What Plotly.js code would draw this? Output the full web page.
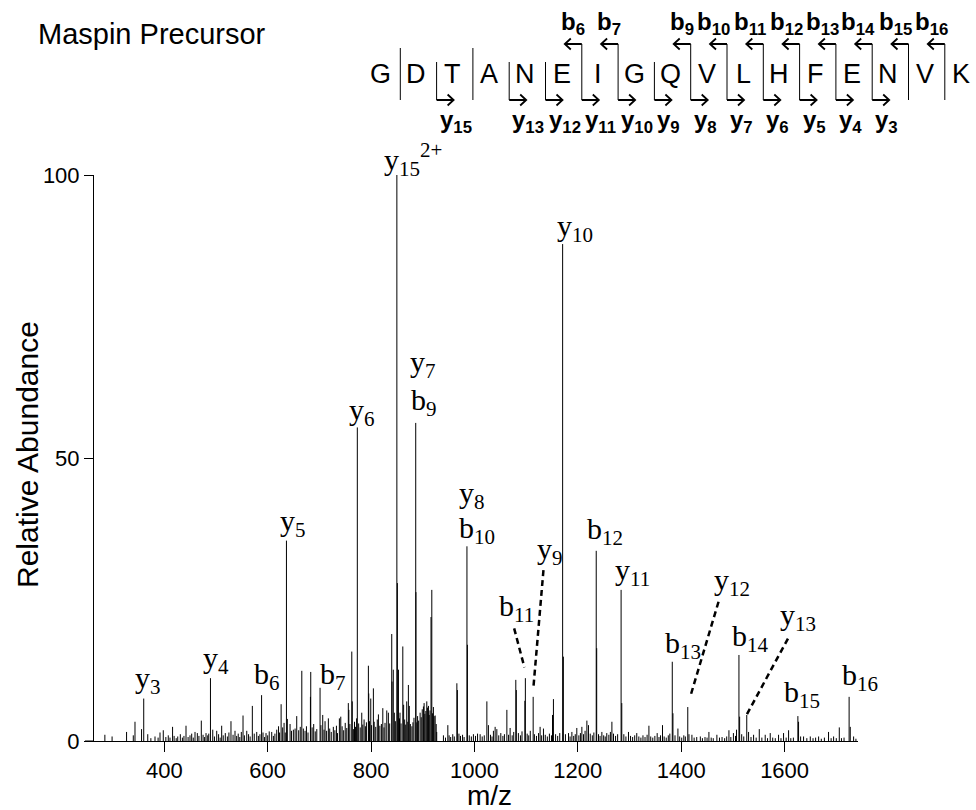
<!DOCTYPE html>
<html><head><meta charset="utf-8">
<script src="https://cdn.plot.ly/plotly-3.0.1.min.js"></script>
<style>html,body{margin:0;padding:0;background:#fff}#chart{width:976px;height:810px}</style>
</head><body><div id="chart"></div>
<script>
// ---- data: labelled fragment peaks ----
const majorMz  = [360.2, 489.3, 588.2, 636.3, 701.3, 773.4, 849.9, 886.4, 985.5, 1098.5, 1113.6, 1170.6, 1235.6, 1283.7, 1382.7, 1412.7, 1511.7, 1526.8, 1625.7, 1724.8];
const majorInt = [7.5, 11.1, 8.1, 35.4, 9.4, 55.4, 100, 56.2, 34.4, 11.1, 7.8, 87.8, 33.6, 26.7, 14.0, 6.0, 15.2, 4.6, 4.4, 7.8];

// ---- data: other peaks ----
const minorMz = [285,299,327,340,343.3,356,368,374,382,388,391.7,398,
403,407.7,411,416,419,423,426,431,435,438,442,446,449.7,453,456,459.4,463.9,467,471.6,475,478,480.7,484,486,493.7,497,501.4,
505,508,511,514,518,522,525,529,533,536.8,540,543,546,549,552.3,555,559.5,563,566,570.3,574,578.8,582,585,591,594,596.8,600,603,607.8,611,614,617.5,621,623,626,629,631.7,634,
638,643.3,646,649.7,653,656.2,660,663,666,669,672.3,675,678,682.7,683.3,686,689,692,695,703,706.5,709,711,714,717.4,720,723,727,730,733,735,738.7,741.4,744,747,750,753,756,757,759,
762.7,763.6,765.8,768,770,772,776,779,782,784,786.5,789,791,794.8,795.5,797,799.4,801,804.5,806,809,812,814.2,817,820,822.7,825,827,830.4,833.5,836,840,840.6,843,845,847,850.9,853,855,856,858,861.4,863,865,867,869,871,872.2,874,876,879,881,883,886.8,888.5,890,892,894.9,897,899,901.3,902.6,904,906,907.8,909,911,912.5,914,916,917.5,919,920.6,922,924,926,927,
940,944,948.5,951,954,958,961,966,967,970,973,977,980,986.4,990,994,998,1002,1006,1011,1015,1019,1024,1027,1031,1034,1036.7,1040,1043.3,1047,1051,1055,1058,1062.7,1066,1069,1073,1076,1080,1081,1085,1089,1092,1097.5,1102,1105,1108,
1116,1120,1124,1127,1130,1133.5,1137,1141,1145,1149,1151,1152.8,1157,1161,1165,1172,1176,1182,1185,1188.5,1192,1195,1198,1202,1205,1207.8,1211,1214,1217.5,1220.6,1224,1228,1231,1236.5,1240,1243,1246.5,1250,1253,1256,1260,1263,1265.9,1269,1273,1277,1285,1289,1293,1298,1302,1306,1310,1314,1318,1322,1326,1330,1334,1337.5,1341,1345,1349,1353.5,1357,1360,1363.8,1367,1371,1375,1378,1384,1388,1393.6,1397,
1401,1405,1408,1415,1420.7,1425,1430,1437,1441,1446,1450,1453.6,1458,1462,1469,1474,1479,1484,1488,1492.3,1496,1501,1505,1507,1513,1517,1521,1530.3,1535,1540,1545,1551,1556,1562.5,1567,1572.2,1577,1582,1588.3,1593,1598,1603,1607.7,1612,1617,1627,1631,1636.7,1643,1649.7,1655,1660,1665.8,1671,1677,1685,1690,1694.8,1700,1705.8,1710,1715,1727,1733.5,1738];
const minorInt = [1.1,0.8,1.6,1.0,3.4,2.1,1.2,0.5,0.8,0.6,1.5,1.9,
0.7,1.0,0.6,2.5,0.9,0.5,0.8,1.2,0.6,0.9,2.7,0.7,1.0,1.3,0.6,1.6,1.4,0.9,3.6,1.1,0.7,1.4,1.0,1.3,2.0,0.8,1.8,
1.2,0.6,2.7,1.0,1.4,0.8,1.5,3.5,1.1,1.8,0.9,1.3,0.7,1.6,4.5,1.0,1.8,1.2,0.8,6.2,1.3,1.6,0.9,1.2,1.5,0.7,1.4,1.0,1.7,1.6,0.9,1.3,2.0,2.6,1.5,6.5,2.4,3.2,1.5,
3.9,3.0,1.8,2.0,2.2,4.4,1.9,2.5,12.4,2.2,1.8,2.6,1.5,7.8,12.2,2.4,3.0,1.7,2.1,2.8,4.6,2.0,3.5,1.8,4.0,2.2,1.6,2.5,1.9,2.7,1.4,4.0,4.3,2.6,1.9,3.2,2.3,6.7,5.5,3.0,
15.8,7.0,2.1,3.4,2.5,4.0,3.1,2.4,5.0,2.9,3.8,2.6,3.3,13.3,8.4,3.5,7.5,2.8,9.3,3.4,2.5,3.8,4.7,2.7,3.0,5.8,2.4,3.2,5.4,5.0,3.1,18.9,10.5,12.6,5.0,3.5,27.9,12.6,4.0,5.0,3.1,16.7,6.4,3.8,2.9,7.0,3.4,9.9,6.2,3.0,2.6,3.3,4.1,26.3,3.3,4.4,3.6,5.0,4.2,5.6,6.1,6.7,4.8,5.3,7.0,5.9,6.2,4.6,5.4,21.9,26.7,4.9,6.0,4.4,4.5,3.0,1.6,
1.0,0.6,2.8,1.0,0.7,1.2,0.8,10.2,9.0,1.3,0.9,1.1,0.7,17.0,1.0,0.8,1.2,0.9,1.3,1.2,0.8,1.0,7.0,2.8,1.1,0.8,1.8,2.5,2.1,1.0,1.4,0.9,1.2,5.5,1.1,2.3,1.0,1.6,10.8,9.0,1.4,1.0,1.7,7.1,1.3,1.0,1.8,
1.2,0.9,1.4,2.5,1.0,2.2,1.1,0.8,1.3,1.0,4.6,7.4,1.2,0.9,1.4,14.9,1.2,1.4,0.8,1.6,0.9,1.2,2.3,1.0,1.4,2.5,1.2,1.8,3.6,2.8,1.3,1.0,1.5,16.4,1.2,0.9,1.6,1.0,0.8,1.4,1.1,1.6,3.4,1.3,0.9,1.2,6.7,1.2,0.8,1.6,0.9,0.7,1.0,1.4,0.8,0.6,1.0,0.7,1.1,2.7,0.8,0.6,0.9,1.4,0.7,1.0,2.8,0.8,0.6,1.0,1.3,4.9,1.0,2.2,0.8,
0.6,1.0,0.8,1.2,1.1,0.6,0.7,0.8,0.5,0.7,0.6,1.6,0.6,0.5,1.1,0.6,0.7,0.5,0.8,1.9,0.7,1.4,0.9,2.0,4.3,1.2,0.8,1.6,0.7,1.1,0.6,2.1,0.6,1.1,0.5,1.4,0.6,0.5,1.1,0.5,1.4,0.6,1.9,0.5,0.6,3.4,0.8,0.8,0.5,0.8,0.5,0.6,0.8,0.4,0.6,1.6,0.5,0.8,0.5,2.4,0.5,0.6,2.5,0.8,0.4];

// ---- peak annotations ----
const ionLabels = ['y<sub>3</sub>','y<sub>4</sub>','b<sub>6</sub>','b<sub>7</sub>','y<sub>5</sub>','y<sub>6</sub>','y<sub>15</sub><sup>2+</sup>','y<sub>10</sub>','y<sub>7</sub>','b<sub>9</sub>','y<sub>8</sub>','b<sub>10</sub>','b<sub>11</sub>','y<sub>9</sub>','b<sub>12</sub>','y<sub>11</sub>','b<sub>13</sub>','y<sub>12</sub>','b<sub>14</sub>','y<sub>13</sub>','b<sub>15</sub>','b<sub>16</sub>'];
const ionLabelMz    = [339.4, 471, 569.7, 697.4, 620, 753.6, 821.3, 1156.2, 871.6, 873.6, 966.5, 966.5, 1043.9, 1117.5, 1214.3, 1268.5, 1365.2, 1460, 1494.9, 1587.8, 1595.5, 1707.8];
const ionLabelLevel = [10.8, 14.3, 11.5, 11.5, 38.5, 58.1, 102.7, 90.6, 66.6, 59.9, 43.5, 37.3, 23.5, 33.6, 37.1, 29.9, 17.0, 28.1, 18.2, 21.9, 8.3, 11.3];
// dashed leader lines [mz0, level0, mz1, level1]
const leaderMz0 = [1076.8, 1133.5, 1472.2, 1606.5];
const leaderLv0 = [19.9, 30.2, 24.6, 18.1];
const leaderMz1 = [1096.7, 1114.2, 1417.4, 1525.2];
const leaderLv1 = [13.0, 9.6, 7.8, 4.4];

// ---- sequence diagram ----
const sequence = ['G','D','T','A','N','E','I','G','Q','V','L','H','F','E','N','V','K'];
const bIons = [6,7,9,10,11,12,13,14,15,16];
const yIons = [15,13,12,11,10,9,8,7,6,5,4,3];

const xTicks = [400,600,800,1000,1200,1400,1600];
const yTicks = [0,50,100];

// ---- build ----
const sx = [], sy = [];
function addSticks(mz, it){ for(let i=0;i<mz.length;i++){ sx.push(mz[i],mz[i],null); sy.push(0,it[i],null);} }
addSticks(minorMz, minorInt);
addSticks(majorMz, majorInt);

const L=94, R=858, T=175, B=741;
const PX = p => (p-L)/(R-L);
const PY = p => (B-p)/(B-T);

const annotations = [];
const shapes = [];
const serif = 'Liberation Serif, Times New Roman, serif';
const sans = 'Liberation Sans, Arial, sans-serif';

ionLabels.forEach((t,i)=>{
  annotations.push({x: ionLabelMz[i], y: ionLabelLevel[i]/100, xref:'x', yref:'paper', text:t, showarrow:false,
    xanchor:'left', yanchor:'middle', font:{family:serif, size:30, color:'#000'}});
});
leaderMz0.forEach((m,i)=>{
  shapes.push({type:'line', xref:'x', yref:'paper', x0:m, y0:leaderLv0[i]/100, x1:leaderMz1[i], y1:leaderLv1[i]/100,
    line:{color:'#000', width:2.5, dash:'6px,4px'}});
});

// title & axis titles
annotations.push({xref:'paper', yref:'paper', x:PX(36), y:PY(34), text:'Maspin Precursor', showarrow:false, xanchor:'left', yanchor:'middle', font:{family:sans, size:29, color:'#000'}});
annotations.push({xref:'paper', yref:'paper', x:PX(27), y:PY(455), text:'Relative Abundance', showarrow:false, textangle:-90, xanchor:'center', yanchor:'middle', font:{family:sans, size:30, color:'#000'}});
annotations.push({xref:'paper', yref:'paper', x:PX(489), y:PY(795), text:'m/z', showarrow:false, xanchor:'center', yanchor:'middle', font:{family:sans, size:28, color:'#000'}});

// x-axis line stub left of y axis
shapes.push({type:'line', xref:'paper', yref:'paper', x0:PX(85), x1:0, y0:0, y1:0, line:{color:'#000', width:1}});

// sequence diagram
const letterX = k => 380 + 36.3*k;
const yB = 44, yLet = 74, yY = 100, yBl = 23, yYl = 121;
sequence.forEach((s,k)=>{
  annotations.push({xref:'paper', yref:'paper', x:PX(letterX(k)), y:PY(yLet), text:s, showarrow:false, xanchor:'center', yanchor:'middle', font:{family:sans, size:27, color:'#000'}});
});
for(let i=1;i<sequence.length;i++){
  const sep = letterX(i) - 16;
  const hasB = bIons.includes(i);
  const yn = sequence.length - i;
  const hasY = yIons.includes(yn);
  const top = hasB ? yB : (hasY ? 62 : 48);
  shapes.push({type:'line', xref:'paper', yref:'paper', x0:PX(sep), x1:PX(sep), y0:PY(top), y1:PY(yY), line:{color:'#000', width:1}});
  if(hasB){
    const tip = sep-17;
    shapes.push({type:'path', xref:'paper', yref:'paper',
      path:`M${PX(sep)},${PY(yB)} L${PX(tip)},${PY(yB)} M${PX(tip+6)},${PY(yB-5.5)} L${PX(tip)},${PY(yB)} L${PX(tip+6)},${PY(yB+5.5)}`,
      line:{color:'#000', width:1.8}});
    annotations.push({xref:'paper', yref:'paper', x:PX(sep+5), y:PY(yBl), text:`<b>b<sub>${i}</sub></b>`, showarrow:false, xanchor:'right', yanchor:'middle', font:{family:sans, size:24, color:'#000'}});
  }
  if(hasY){
    const tip = sep+17;
    shapes.push({type:'path', xref:'paper', yref:'paper',
      path:`M${PX(sep)},${PY(yY)} L${PX(tip)},${PY(yY)} M${PX(tip-6)},${PY(yY-5.5)} L${PX(tip)},${PY(yY)} L${PX(tip-6)},${PY(yY+5.5)}`,
      line:{color:'#000', width:1.8}});
    annotations.push({xref:'paper', yref:'paper', x:PX(sep+1), y:PY(yYl), text:`<b>y<sub>${yn}</sub></b>`, showarrow:false, xanchor:'left', yanchor:'middle', font:{family:sans, size:24, color:'#000'}});
  }
}

const trace = {x:sx, y:sy, type:'scatter', mode:'lines', line:{color:'#000', width:1}, connectgaps:false, hoverinfo:'skip', showlegend:false};

const layout = {
  width:976, height:810,
  margin:{l:L, r:976-R, t:T, b:810-B, pad:0},
  paper_bgcolor:'#fff', plot_bgcolor:'#fff',
  showlegend:false,
  xaxis:{range:[264,1742], tickvals:xTicks, ticktext:xTicks.map(String), ticks:'outside', ticklen:10, tickwidth:1, tickcolor:'#000',
    showline:true, linecolor:'#000', linewidth:1, showgrid:false, zeroline:false,
    tickfont:{family:sans, size:22, color:'#000'}, fixedrange:true},
  yaxis:{range:[0,100], tickvals:yTicks, ticktext:yTicks.map(String), ticks:'outside', ticklen:9, tickwidth:1, tickcolor:'#000',
    showline:true, linecolor:'#000', linewidth:1, showgrid:false, zeroline:false,
    tickfont:{family:sans, size:22, color:'#000'}, fixedrange:true},
  annotations, shapes
};
Plotly.newPlot('chart', [trace], layout, {staticPlot:true, displayModeBar:false});
</script>
</body></html>
